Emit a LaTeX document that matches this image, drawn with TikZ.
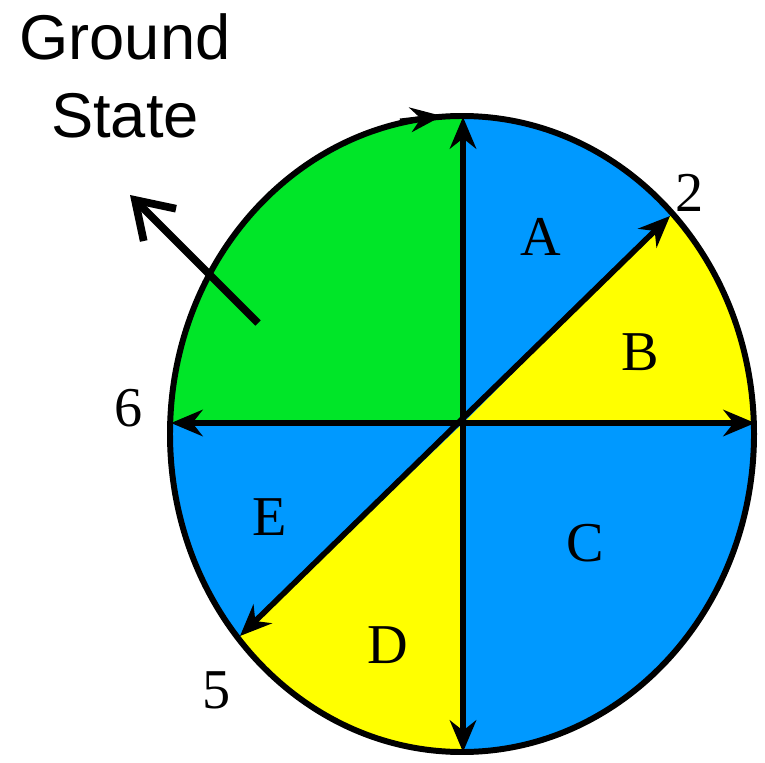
\documentclass[tikz,border=0pt]{standalone}
\usepackage{fontspec}
\setmainfont{Liberation Serif}
\newfontfamily\labsans{Liberation Sans}
\usetikzlibrary{arrows.meta,calc}
\definecolor{cgreen}{RGB}{0,230,40}
\definecolor{cblue}{RGB}{0,153,255}
\definecolor{cyellow}{RGB}{255,255,0}
\tikzset{
  rim/.style={line width=1.7pt, draw=black},
  axis/.style={line width=1.6pt, {Stealth[length=9pt,width=7.5pt]}-{Stealth[length=9pt,width=7.5pt]}},
  seclabel/.style={font=\fontsize{16pt}{18pt}\selectfont, inner sep=0pt},
  numlabel/.style={font=\fontsize{16pt}{18pt}\selectfont, inner sep=0pt},
  gslabel/.style={font=\labsans\fontsize{18pt}{22pt}\selectfont, align=center, inner sep=0pt}
}
\begin{document}
\begin{tikzpicture}[x=0.1mm,y=-0.1mm]
\useasboundingbox (0,0) rectangle (765,762);
\coordinate (O) at (463,423);
\coordinate (top) at (463,117);
\coordinate (bot) at (463,752);
\coordinate (lft) at (171,423);
\coordinate (rgt) at (755,423);
\coordinate (p2) at (670,216);
\coordinate (p5) at (240,636);
% fills
\begin{scope}
\clip (462,434) ellipse [x radius=292, y radius=318];
\fill[cgreen] (O) -- (0,423) -- (0,0) -- (463,0) -- cycle;
\fill[cyellow] (O) -- (463,0) -- (800,0) -- (800,423) -- cycle;
\fill[cblue] (O) -- (463,-400) -- ($(O)!3!(p2)$) -- cycle;
\fill[cblue] (O) -- (800,423) -- (800,800) -- (463,800) -- cycle;
\fill[cyellow] (O) -- (0,423) -- (0,800) -- (463,800) -- cycle;
\fill[cblue] (O) -- (0,423) -- (-400,423) -- ($(O)!3!(p5)$) -- cycle;
\end{scope}
\draw[rim] (462,434) ellipse [x radius=292, y radius=318];
% tangent arrow on rim
\draw[line width=1.4pt, -{Stealth[length=9pt,width=7pt]}] (400,121) -- (442,116);
% axes
\draw[axis] (bot) -- (top);
\draw[axis] (lft) -- (rgt);
\draw[axis] (p5) -- (p2);
% labels
\node[seclabel] (A) at (541,237) {A};
\node[seclabel] (B) at (640,352) {B};
\node[seclabel] (C) at (585,543) {C};
\node[seclabel] (D) at (388,645) {D};
\node[seclabel] (E) at (270,517) {E};
\node[numlabel] (n2) at (690,193) {2};
\node[numlabel] (n6) at (129,408) {6};
\node[numlabel] (n5) at (217,690) {5};
\node[gslabel] (gs) at (125,76) {Ground\\State};
\coordinate (gsfrom) at (258,323);
\coordinate (gsto) at (130,195);
\draw[line width=2.2pt, -{Straight Barb[length=10pt,width=13pt]}] (gsfrom) -- (gsto);
\end{tikzpicture}
\end{document}
